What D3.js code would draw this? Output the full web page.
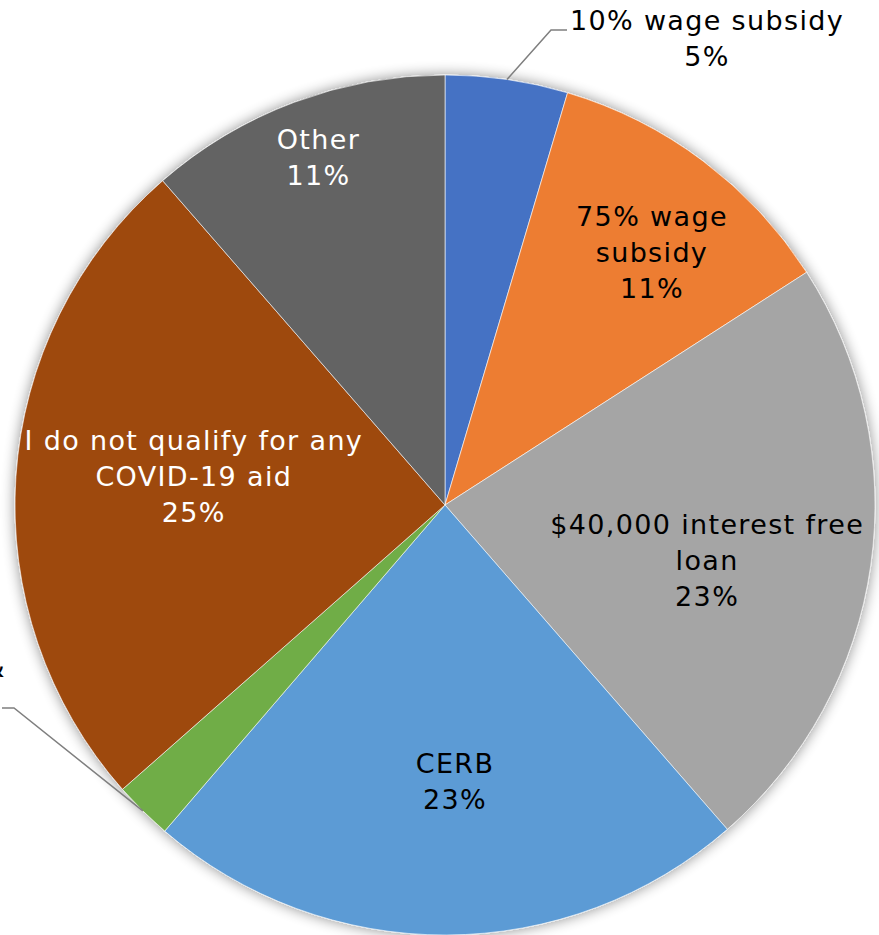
<!DOCTYPE html>
<html>
<head>
<meta charset="utf-8">
<script src="https://cdn.jsdelivr.net/npm/d3@7"></script>
<style>
  html, body { margin: 0; padding: 0; background: #fff; overflow: hidden; }
  svg { display: block; }
  text { font-family: "DejaVu Sans", Verdana, sans-serif; letter-spacing: 1.35px; }
</style>
</head>
<body>
<svg id="chart" width="879" height="935"></svg>
<script>
// ---- data ----
const categories = [
  "10% wage subsidy",
  "75% wage subsidy",
  "$40,000 interest free loan",
  "CERB",
  "Rent assistance & other",
  "I do not qualify for any COVID-19 aid",
  "Other"
];
const values = [4.6, 11.3, 22.7, 22.7, 2.2, 25.1, 11.4];
const labelLines = [
  ["10% wage subsidy"],
  ["75% wage", "subsidy"],
  ["$40,000 interest free", "loan"],
  ["CERB"],
  ["Rent assistance &", "other"],
  ["I do not qualify for any", "COVID-19 aid"],
  ["Other"]
];
const colors = ["#4472C4", "#ED7D31", "#A5A5A5", "#5B9BD5", "#70AD47", "#9E480E", "#636363"];
const textColors = ["#000", "#000", "#000", "#000", "#000", "#fff", "#fff"];

// ---- layout ----
const W = 879, H = 935;
const cx = 445, cy = 505, R = 430;
const fontSize = 27;
const lineH = 36;
// inside labels: [radius fraction, angle shift (deg)]; outside: null
const insideLayout = [null, [0.76, 2.4], [0.623, 3.8], [0.644, -1.9], null, [0.588, 2.8], [0.86, 0.5]];
// outside labels: elbow (relative to centre), label anchor
const outsideLayout = {
  0: { elbow: [106, -475], hEnd: [122, -475], anchor: "middle", x: 262, firstY: -485 },
  4: { elbow: [-431, 203], hEnd: [-443, 203], anchor: "end", x: -439, firstY: 162 }
};

const svg = d3.select("#chart");
const defs = svg.append("defs");
const filt = defs.append("filter").attr("id", "shadow")
  .attr("x", "-10%").attr("y", "-10%").attr("width", "120%").attr("height", "120%");
filt.append("feGaussianBlur").attr("in", "SourceAlpha").attr("stdDeviation", 7).attr("result", "b");
filt.append("feComponentTransfer").attr("in", "b").attr("result", "b2")
  .append("feFuncA").attr("type", "linear").attr("slope", 0.45);
const fm = filt.append("feMerge");
fm.append("feMergeNode").attr("in", "b2");
fm.append("feMergeNode").attr("in", "SourceGraphic");

const g = svg.append("g").attr("transform", `translate(${cx},${cy})`);

const pie = d3.pie().sort(null).value(d => d)(values);
const arc = d3.arc().innerRadius(0).outerRadius(R);

const slices = g.append("g").attr("filter", "url(#shadow)");
slices.selectAll("path").data(pie).join("path")
  .attr("d", arc)
  .attr("fill", (d, i) => colors[i])
  .attr("stroke", "#fff")
  .attr("stroke-width", 0.75)
  .attr("stroke-opacity", 0.8);

const pctFmt = v => Math.round(v) + "%";
const toRad = deg => deg * Math.PI / 180;

pie.forEach((d, i) => {
  const lines = labelLines[i].concat([pctFmt(values[i])]);
  if (insideLayout[i]) {
    const [rf, shift] = insideLayout[i];
    const a = (d.startAngle + d.endAngle) / 2 + toRad(shift);
    const x = Math.sin(a) * R * rf;
    const y = -Math.cos(a) * R * rf;
    const t = g.append("text")
      .attr("text-anchor", "middle")
      .attr("fill", textColors[i])
      .attr("font-size", fontSize);
    const n = lines.length;
    lines.forEach((ln, k) => {
      t.append("tspan").attr("x", x)
        .attr("y", y + (k - (n - 1) / 2) * lineH + fontSize * 0.36)
        .text(ln);
    });
  } else {
    const o = outsideLayout[i];
    const a = (d.startAngle + d.endAngle) / 2;
    const p0 = [Math.sin(a) * R, -Math.cos(a) * R];
    g.append("polyline")
      .attr("points", [p0, o.elbow, o.hEnd].map(p => p.join(",")).join(" "))
      .attr("fill", "none")
      .attr("stroke", "#7f7f7f")
      .attr("stroke-width", 1.5);
    const t = g.append("text")
      .attr("fill", textColors[i])
      .attr("font-size", fontSize)
      .attr("text-anchor", "middle");
    // first line determines horizontal placement
    const probe = g.append("text").attr("font-size", fontSize).text(lines[0]);
    const w0 = probe.node().getComputedTextLength();
    probe.remove();
    const centerX = o.anchor === "end" ? o.x - w0 / 2 : o.x;
    lines.forEach((ln, k) => {
      t.append("tspan").attr("x", centerX)
        .attr("y", o.firstY + k * lineH + fontSize * 0.36)
        .text(ln);
    });
  }
});
</script>
</body>
</html>
